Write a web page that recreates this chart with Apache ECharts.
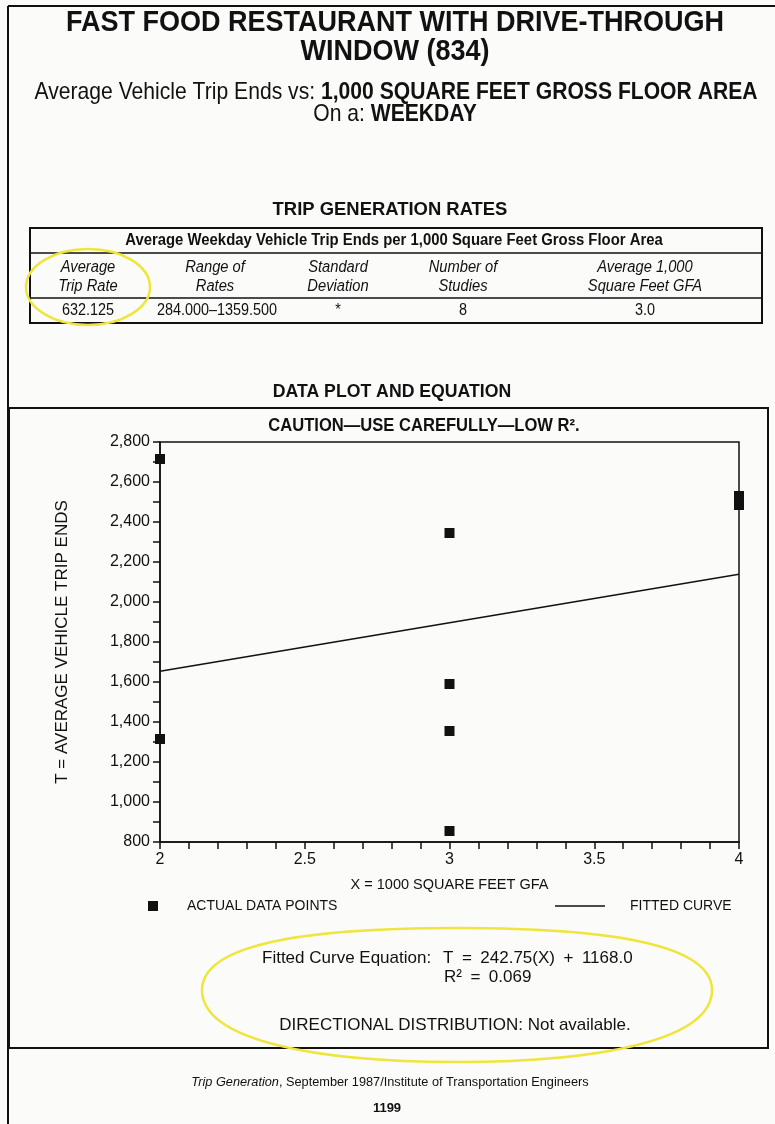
<!DOCTYPE html>
<html>
<head>
<meta charset="utf-8">
<title>Fast Food Restaurant with Drive-Through Window (834)</title>
<script src="https://cdn.jsdelivr.net/npm/echarts@6/dist/echarts.min.js"></script>
<style>
  html, body { margin: 0; padding: 0; background: #fbfbfa; }
  #chart { width: 775px; height: 1124px; }
</style>
</head>
<body>
<div id="chart"></div>
<script>
// study points: X = 1000 sq ft GFA, T = weekday trip ends
var gfa = [2, 2, 3, 3, 3, 3, 4, 4];
var tripEnds = [2715, 1315, 2345, 1590, 1355, 855, 2530, 2485];

// fitted curve T = 242.75(X) + 1168.0, end points at X = 2 and X = 4
var fitX = [2, 4];
var fitT = [1653.5, 2139.0];

// trip generation rates table
var tableHeads = [
  ["Average", "Trip Rate"],
  ["Range of", "Rates"],
  ["Standard", "Deviation"],
  ["Number of", "Studies"],
  ["Average 1,000", "Square Feet GFA"]
];
var tableValues = ["632.125", "284.000\u20131359.500", "*", "8", "3.0"];

// no condensed face installed, so condensed text is squeezed with scaleX
var FONT = '"Liberation Sans", Arial, Helvetica, sans-serif';
var INK = "#111";
var YELLOW = "#efe53c";

var chartDom = document.getElementById("chart");
var myChart = echarts.init(chartDom);

var points = gfa.map(function (x, i) { return [x, tripEnds[i]]; });
var fitLine = fitX.map(function (x, i) { return [x, fitT[i]]; });

function txt(x, y, text, size, opts) {
  opts = opts || {};
  return {
    type: "text",
    x: x,
    y: y,
    scaleX: opts.sx || 1,
    z: 10,
    style: {
      text: text,
      fontFamily: FONT,
      fontSize: size,
      fontWeight: opts.weight || "normal",
      fontStyle: opts.italic ? "italic" : "normal",
      fill: INK,
      align: opts.align || "center",
      verticalAlign: "middle",
      rich: opts.rich
    }
  };
}

function hline(x1, x2, y, w) {
  return {
    type: "line",
    z: 5,
    shape: { x1: x1, y1: y, x2: x2, y2: y },
    style: { stroke: INK, lineWidth: w || 1.5 }
  };
}

function mixed(size) {
  return {
    r: { fontFamily: FONT, fontSize: size, fill: INK },
    b: { fontFamily: FONT, fontSize: size, fontWeight: "bold", fill: INK },
    i: { fontFamily: FONT, fontSize: size, fontStyle: "italic", fill: INK }
  };
}

// one quarter of the hand-drawn yellow loop
function arcPiece(x1, y1, c1x, c1y, c2x, c2y, x2, y2) {
  return {
    type: "bezierCurve",
    z: 20,
    shape: { x1: x1, y1: y1, cpx1: c1x, cpy1: c1y, cpx2: c2x, cpy2: c2y, x2: x2, y2: y2 },
    style: { fill: "none", stroke: YELLOW, lineWidth: 2.5 }
  };
}

var colX = [88, 215, 338, 463, 645];

var graphics = [
  // page frame
  hline(8, 775, 6, 2),
  { type: "line", z: 5, shape: { x1: 8, y1: 6, x2: 8, y2: 1124 }, style: { stroke: INK, lineWidth: 2 } },

  // heading
  txt(395, 23, "FAST FOOD RESTAURANT WITH DRIVE-THROUGH", 30, { weight: "bold", sx: 0.9 }),
  txt(395, 52, "WINDOW (834)", 30, { weight: "bold", sx: 0.9 }),
  txt(396, 92, "{r|Average Vehicle Trip Ends vs: }{b|1,000 SQUARE FEET GROSS FLOOR AREA}", 24, {
    sx: 0.88, rich: mixed(24)
  }),
  txt(395, 114, "{r|On a: }{b|WEEKDAY}", 24, { sx: 0.88, rich: mixed(24) }),

  // table
  txt(390, 210, "TRIP GENERATION RATES", 19, { weight: "bold", sx: 0.97 }),
  {
    type: "rect",
    z: 5,
    shape: { x: 30, y: 228, width: 732, height: 95 },
    style: { fill: "none", stroke: INK, lineWidth: 2 }
  },
  hline(30, 762, 253, 1.3),
  hline(30, 762, 298, 1.3),
  txt(394, 241, "Average Weekday Vehicle Trip Ends per 1,000 Square Feet Gross Floor Area", 16, {
    weight: "bold", sx: 0.93
  }),

  // data plot box
  txt(392, 392, "DATA PLOT AND EQUATION", 19, { weight: "bold", sx: 0.93 }),
  {
    type: "rect",
    z: 5,
    shape: { x: 9, y: 408, width: 759, height: 640 },
    style: { fill: "none", stroke: INK, lineWidth: 2 }
  },
  txt(424, 426, "CAUTION\u2014USE CAREFULLY\u2014LOW R\u00b2.", 18, { weight: "bold", sx: 0.92 }),

  // equation block
  txt(262, 958, "Fitted Curve Equation:", 17, { align: "left" }),
  txt(443, 958, "T\u2002=\u2002242.75(X)\u2002+\u20021168.0", 17, { align: "left" }),
  txt(444, 977, "R\u00b2\u2002=\u20020.069", 17, { align: "left" }),
  txt(455, 1025, "DIRECTIONAL DISTRIBUTION: Not available.", 17),

  // footer
  txt(390, 1082, "{i|Trip Generation}{r|, September 1987/Institute of Transportation Engineers}", 13, {
    sx: 0.98, rich: mixed(13)
  }),
  txt(387, 1108, "1199", 13, { weight: "bold" }),

  // yellow hand-drawn highlights
  {
    type: "ellipse",
    z: 20,
    shape: { cx: 88, cy: 287, rx: 62, ry: 38 },
    style: { fill: "none", stroke: YELLOW, lineWidth: 2.5 }
  },
  arcPiece(202, 990, 202, 945, 300, 928, 457, 928),
  arcPiece(457, 928, 614, 928, 712, 945, 712, 990),
  arcPiece(712, 990, 712, 1040, 600, 1062, 457, 1062),
  arcPiece(457, 1062, 314, 1062, 202, 1040, 202, 990)
];

tableHeads.forEach(function (h, i) {
  graphics.push(txt(colX[i], 268, h[0], 16, { italic: true, sx: 0.92 }));
  graphics.push(txt(colX[i], 287, h[1], 16, { italic: true, sx: 0.92 }));
  graphics.push(txt(colX[i] + (i === 1 ? 2 : 0), 311, tableValues[i], 16, { sx: 0.9 }));
});

var option = {
  backgroundColor: "#fbfbfa",
  animation: false,
  grid: {
    left: 160,
    right: 36,
    top: 442,
    bottom: 282,
    show: true,
    borderColor: INK,
    borderWidth: 1.5,
    backgroundColor: "transparent"
  },
  legend: [
    {
      data: [{ name: "ACTUAL DATA POINTS", icon: "rect" }],
      left: 148,
      top: 899,
      padding: 0,
      itemWidth: 10,
      itemHeight: 10,
      selectedMode: false,
      textStyle: { fontFamily: FONT, fontSize: 14, color: INK, padding: [0, 0, 0, 24] }
    },
    {
      data: [{ name: "FITTED CURVE", icon: "rect" }],
      left: 555,
      top: 899,
      padding: 0,
      itemWidth: 50,
      itemHeight: 1.5,
      selectedMode: false,
      textStyle: { fontFamily: FONT, fontSize: 14, color: INK, padding: [0, 0, 0, 20] }
    }
  ],
  xAxis: {
    type: "value",
    min: 2,
    max: 4,
    interval: 0.5,
    name: "X = 1000 SQUARE FEET GFA",
    nameLocation: "middle",
    nameGap: 35,
    nameTextStyle: { fontFamily: FONT, fontSize: 14.5, color: INK },
    axisLine: { show: true, lineStyle: { color: INK, width: 1.5 } },
    axisTick: { show: true, length: 7, lineStyle: { color: INK, width: 1.5 } },
    minorTick: { show: true, splitNumber: 5, length: 7, lineStyle: { color: INK, width: 1.5 } },
    axisLabel: { fontFamily: FONT, fontSize: 16, color: INK, margin: 10 },
    splitLine: { show: false }
  },
  yAxis: {
    type: "value",
    min: 800,
    max: 2800,
    interval: 200,
    name: "T = AVERAGE VEHICLE TRIP ENDS",
    nameLocation: "middle",
    nameGap: 89,
    nameTextStyle: { fontFamily: FONT, fontSize: 17, color: INK },
    axisLine: { show: true, lineStyle: { color: INK, width: 1.5 } },
    axisTick: { show: true, length: 7, lineStyle: { color: INK, width: 1.5 } },
    minorTick: { show: true, splitNumber: 2, length: 7, lineStyle: { color: INK, width: 1.5 } },
    axisLabel: {
      fontFamily: FONT,
      fontSize: 16,
      color: INK,
      margin: 10,
      formatter: function (v) { return v.toLocaleString("en-US"); }
    },
    splitLine: { show: false }
  },
  series: [
    {
      name: "ACTUAL DATA POINTS",
      type: "scatter",
      symbol: "rect",
      symbolSize: 10,
      clip: false,
      itemStyle: { color: INK, opacity: 1 },
      data: points
    },
    {
      name: "FITTED CURVE",
      type: "line",
      showSymbol: false,
      symbol: "none",
      itemStyle: { color: INK },
      lineStyle: { color: INK, width: 1.5 },
      data: fitLine
    }
  ],
  graphic: graphics
};

option && myChart.setOption(option);
</script>
</body>
</html>
